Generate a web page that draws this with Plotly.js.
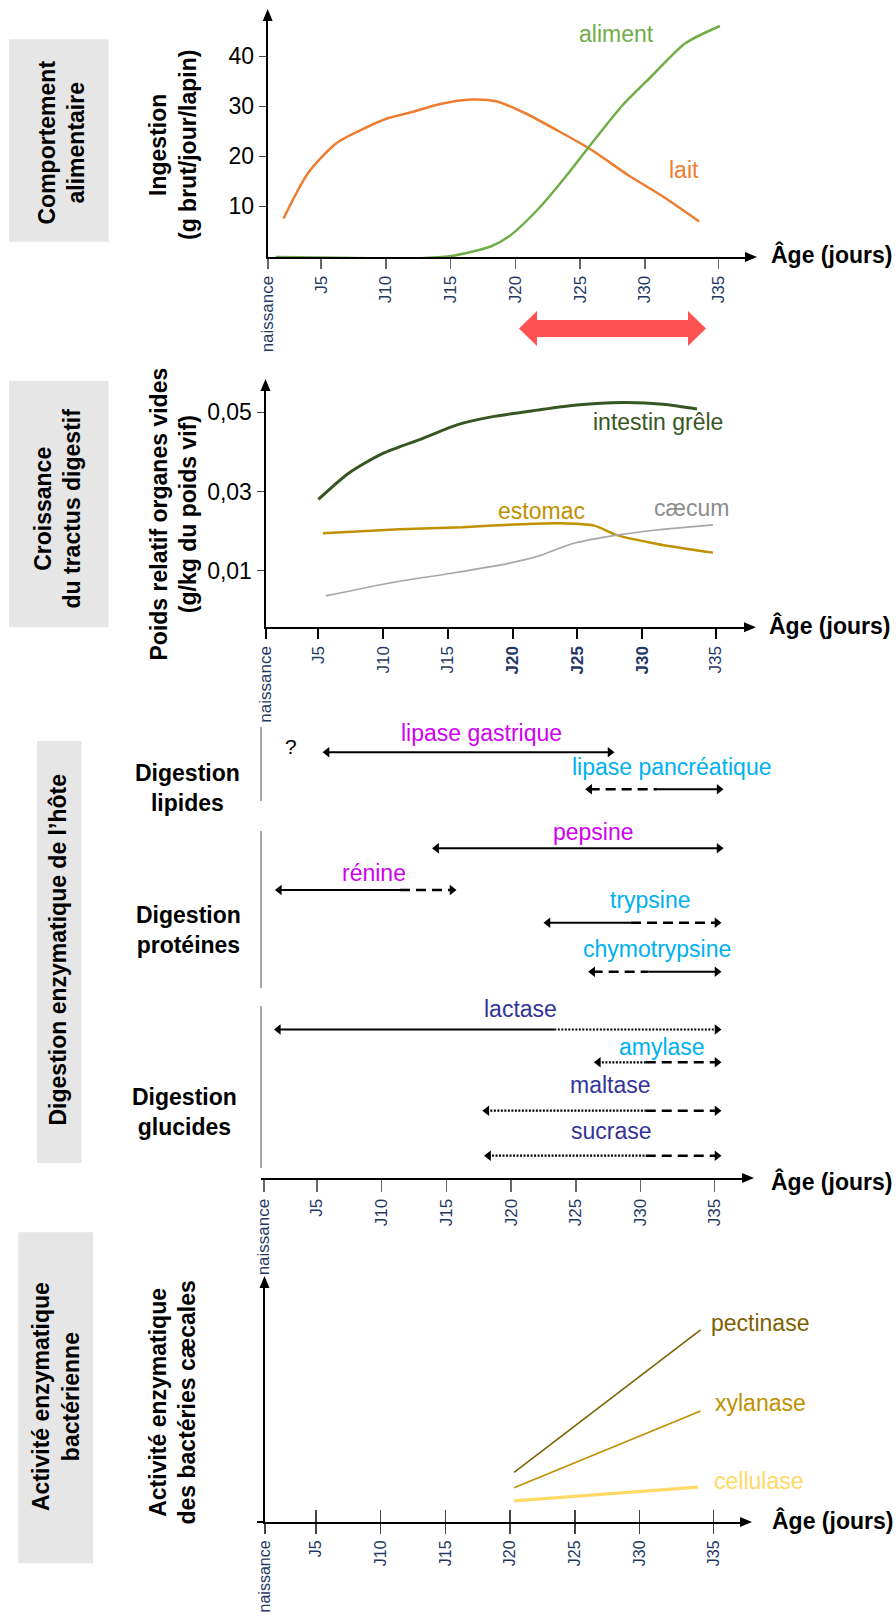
<!DOCTYPE html>
<html><head><meta charset="utf-8">
<script src="https://cdn.plot.ly/plotly-3.0.1.min.js"></script>
<style>html,body{margin:0;padding:0;background:#fff}</style>
</head><body><div id="chart" style="width:896px;height:1616px"></div>
<script>
// ===================== DATA =====================
const tickLabels = ['naissance','J5','J10','J15','J20','J25','J30','J35'];
const tickLabelsP2 = ['naissance','J5','J10','J15','<b>J20</b>','<b>J25</b>','<b>J30</b>','J35'];
const tickDays = [0.9, 5, 10, 15, 20, 25, 30, 35.7];

// Panel 1 : ingestion (g brut/jour/lapin)
const laitDays   = [2.1, 4.0, 6.2, 8.4, 10.2, 11.9, 14.2, 16.6, 18.6, 20.8, 23.4, 25.9, 28.7, 31.4, 34.2];
const laitValues = [7.5, 16.6, 22.6, 25.6, 27.6, 28.7, 30.4, 31.3, 30.9, 28.5, 24.9, 21.2, 16.2, 11.9, 6.9];
const alimentDays   = [1.5, 5, 10.2, 13, 15.1, 18.1, 19.5, 21.7, 23.9, 26.1, 28.3, 30.5, 33.1, 35.8];
const alimentValues = [-0.2, -0.3, -0.5, -0.4, 0, 1.9, 3.9, 9.2, 15.9, 23.2, 30.2, 35.9, 42.5, 46];
const ingestionTicks = [10, 20, 30, 40];

// Panel 2 : poids relatif organes vides (g/kg du poids vif)
const intestinDays   = [5.0, 7.34, 9.98, 13.07, 15.71, 18.36, 21.88, 24.97, 28.52, 31.6, 34.24];
const intestinValues = [0.0280, 0.0346, 0.0396, 0.0434, 0.0468, 0.0488, 0.0505, 0.0518, 0.0524, 0.0520, 0.0508];
const estomacDays   = [5.35, 11.3, 16.16, 20.13, 23.66, 26.31, 28.06, 31.15, 35.47];
const estomacValues = [0.0195, 0.0205, 0.0210, 0.0217, 0.0220, 0.0214, 0.0190, 0.0168, 0.0146];
const caecumDays   = [5.57, 10.42, 15.27, 19.69, 21.88, 24.54, 28.06, 31.15, 35.47];
const caecumValues = [0.0037, 0.0069, 0.0094, 0.0119, 0.0136, 0.0168, 0.0190, 0.0203, 0.0216];
const poidsTicks = [0.01, 0.03, 0.05];
const poidsTickText = ['0,01', '0,03', '0,05'];

// Panel 3 : digestion enzymatique de l'hôte (start / change of certainty / end, in days)
const enzNames  = ['lipase gastrique','lipase pancréatique','pepsine','rénine','trypsine','chymotrypsine','lactase','amylase','maltase','sucrase'];
const enzStart  = [5.78, 26.06, 14.24, 2.1, 22.84, 26.29, 2.02, 26.73, 18.12, 18.25];
const enzSwitch = [null, 31.26, null, 11.41, 29.25, 30.61, 23.33, 30.39, 30.39, 30.39];
const enzEnd    = [27.63, 36.05, 36.05, 15.43, 35.89, 35.89, 35.89, 35.89, 35.89, 35.89];
const enzStyleA = ['solid','dash','solid','solid','solid','dash','solid','dot','dot','dot'];
const enzStyleB = [null,'solid',null,'dash','dash','solid','dot','dash','dash','dash'];
const enzGroups = ['Digestion<br>lipides','Digestion<br>protéines','Digestion<br>glucides'];

// Panel 4 : activité enzymatique des bactéries caecales (unités arbitraires)
const bactDays = [20.3, 34.7];
const pectinaseValues = [20.3, 78.4];
const xylanaseValues  = [14.0, 45.3];
const cellulaseDays   = [20.3, 34.5];
const cellulaseValues = [8.6, 14.2];

// ===================== LAYOUT HELPERS =====================
const W = 896, H = 1616;
const fx = px => px / W;
const fy = py => 1 - py / H;
const F = 'Liberation Sans, Arial, Helvetica, sans-serif';
const NAVY = '#1f3864';
const S = 12.95; // px per day

// row pixel positions of the enzyme arrows (panel 3 y axis is in pixel units)
const enzRowY = [752.3, 789.3, 848.3, 890, 922.7, 971.7, 1029.5, 1062.3, 1110.7, 1155.7];
const enzColor = ['#d000f0','#00b0f0','#d000f0','#d000f0','#00b0f0','#00b0f0','#333399','#00b0f0','#333399','#333399'];
const enzLabelPx = [[481.7,733.3],[671.4,766.7],[593,831.7],[374.3,873.3],[650,900],[657,949.3],[520,1009.3],[661.7,1046.7],[610.3,1085],[611.4,1130.7]];

function xAxis(d0, r0, r1, anchor, ticktext, extra) {
  return Object.assign({
    domain: [fx(d0 + S * r0), fx(d0 + S * r1)], range: [r0, r1], anchor: anchor,
    showline: true, linecolor: '#000', linewidth: 2,
    ticks: 'outside', ticklen: 10, tickwidth: 1.5, tickcolor: '#666',
    tickvals: tickDays.map((d, i) => i === 0 ? Math.max(d, r0 + 0.02) : d), ticktext: ticktext, tickangle: -90,
    tickfont: {family: F, size: 17, color: NAVY},
    showgrid: false, zeroline: false, fixedrange: true
  }, extra || {});
}

const layout = {
  width: W, height: H, margin: {l: 0, r: 0, t: 0, b: 0},
  paper_bgcolor: '#fff', plot_bgcolor: 'rgba(0,0,0,0)',
  showlegend: false, hovermode: false,
  font: {family: F, size: 17, color: '#000'},
  xaxis:  xAxis(256.3, 0.88, 37.97, 'y', tickLabels),
  xaxis2: xAxis(253.6, 0.92, 38.1, 'y2', tickLabelsP2, {tickcolor: '#000', tickwidth: 2}),
  xaxis3: xAxis(252.2, 0.65, 38.05, 'y3', tickLabels, {ticklen: 12}),
  xaxis4: xAxis(251.2, 1.03, 37.98, 'y4', tickLabels, {ticklen: 10, tickcolor: '#444',
           tickfont: {family: F, size: 16, color: NAVY}}),
  xaxis5: {overlaying: 'x4', anchor: 'y4', range: [1.03, 37.98], tickvals: tickDays.slice(1), ticks: 'inside',
           ticklen: 12, tickwidth: 1.5, tickcolor: '#444', showticklabels: false, showline: false,
           showgrid: false, zeroline: false, fixedrange: true},
  yaxis: {domain: [fy(257), fy(19)], range: [-0.2, 47.4], anchor: 'x',
          showline: true, linecolor: '#000', linewidth: 2, ticks: 'outside', ticklen: 7, tickcolor: '#444',
          tickvals: ingestionTicks, tickfont: {family: F, size: 23, color: '#000'},
          showgrid: false, zeroline: false, fixedrange: true},
  yaxis2: {domain: [fy(627.3), fy(389)], range: [-0.00421, 0.05582], anchor: 'x2',
          showline: true, linecolor: '#000', linewidth: 2, ticks: 'outside', ticklen: 7, tickcolor: '#444',
          tickvals: poidsTicks, ticktext: poidsTickText, tickfont: {family: F, size: 23, color: '#000'},
          showgrid: false, zeroline: false, fixedrange: true},
  yaxis3: {domain: [fy(1178), fy(700)], range: [1178, 700], anchor: 'x3', visible: false, fixedrange: true},
  yaxis4: {domain: [fy(1522), fy(1286)], range: [0, 96.33], anchor: 'x4',
          showline: true, linecolor: '#000', linewidth: 2, ticks: '', showticklabels: false,
          showgrid: false, zeroline: false, fixedrange: true},
  shapes: [],
  annotations: []
};

// ---- gray side boxes ----
[[9, 39.3, 108.6, 241.7], [9, 381, 108.6, 627.3], [37, 741, 81.5, 1163], [18.3, 1232.3, 93, 1563.3]].forEach(b => {
  layout.shapes.push({type: 'rect', xref: 'paper', yref: 'paper', layer: 'below',
    x0: fx(b[0]), x1: fx(b[2]), y0: fy(b[3]), y1: fy(b[1]), fillcolor: '#e6e6e6', line: {width: 0}});
});

// ---- axis arrowheads ----
function poly(points, color) {
  const d = points.map((p, i) => (i ? 'L' : 'M') + fx(p[0]).toFixed(5) + ',' + fy(p[1]).toFixed(5)).join(' ') + ' Z';
  return {type: 'path', xref: 'paper', yref: 'paper', path: d, fillcolor: color, line: {width: 0}};
}
function arrowRight(tx, ty) { return poly([[tx, ty], [tx - 12, ty - 5], [tx - 12, ty + 5]], '#000'); }
function arrowUp(tx, ty) { return poly([[tx, ty], [tx - 5, ty + 12], [tx + 5, ty + 12]], '#000'); }
layout.shapes.push(arrowRight(757, 257), arrowUp(267.7, 9));
layout.shapes.push(arrowRight(756, 627.3), arrowUp(265.5, 379));
layout.shapes.push(arrowRight(754, 1178));
layout.shapes.push(arrowRight(752, 1522), arrowUp(264.5, 1276));

// x axis of panel 4 starts slightly left of its y axis
layout.shapes.push({type: 'line', xref: 'paper', yref: 'paper', x0: fx(257), x1: fx(265), y0: fy(1522), y1: fy(1522),
  line: {color: '#000', width: 2}});

// ---- red weaning double arrow ----
layout.shapes.push(poly([[519, 328.5], [537, 311], [537, 320], [688, 320], [688, 311], [706, 328.5],
  [688, 346], [688, 337], [537, 337], [537, 346]], '#ff5252'));

// ---- panel 3 group separators ----
[[727, 801], [831, 988], [1006, 1168]].forEach(s => {
  layout.shapes.push({type: 'line', xref: 'paper', yref: 'paper', x0: fx(261), x1: fx(261), y0: fy(s[0]), y1: fy(s[1]),
    line: {color: '#a6a6a6', width: 2}});
});

// ---- texts ----
function txt(text, px, py, opts) {
  return Object.assign({text: text, x: fx(px), y: fy(py), xref: 'paper', yref: 'paper', showarrow: false,
    xanchor: 'center', yanchor: 'middle', font: {family: F, size: 23, color: '#000'}}, opts || {});
}
const bold = s => '<b>' + s + '</b>';
layout.annotations.push(
  txt(bold('Comportement<br>alimentaire'), 61, 142.5, {textangle: -90}),
  txt(bold('Ingestion<br>(g brut/jour/lapin)'), 173, 145, {textangle: -90}),
  txt(bold('Croissance<br>du tractus digestif'), 57.5, 508, {textangle: -90}),
  txt(bold('Poids relatif organes vides<br>(g/kg du poids vif)'), 173, 514.5, {textangle: -90}),
  txt(bold('Digestion enzymatique de l’hôte'), 57, 950.5, {textangle: -90}),
  txt(bold('Activité enzymatique<br>bactérienne'), 56, 1397, {textangle: -90}),
  txt(bold('Activité enzymatique<br>des bactéries cæcales'), 172.5, 1403, {textangle: -90}),
  txt(bold('Âge (jours)'), 831, 255),
  txt(bold('Âge (jours)'), 829, 625),
  txt(bold('Âge (jours)'), 831, 1181),
  txt(bold('Âge (jours)'), 832, 1520),
  txt(bold(enzGroups[0]), 187, 788),
  txt(bold(enzGroups[1]), 188, 930),
  txt(bold(enzGroups[2]), 184, 1112),
  txt('aliment', 616.6, 34, {font: {family: F, size: 23, color: '#70ad47'}}),
  txt('lait', 683.6, 170, {font: {family: F, size: 23, color: '#ed7d31'}}),
  txt('intestin grêle', 657.8, 421.7, {font: {family: F, size: 23, color: '#375623'}}),
  txt('estomac', 541, 511, {font: {family: F, size: 23, color: '#bf9000'}}),
  txt('cæcum', 691, 508.3, {font: {family: F, size: 23, color: '#8c8c8c'}}),
  txt('pectinase', 760, 1323.3, {font: {family: F, size: 23, color: '#7f6000'}}),
  txt('xylanase', 760, 1402.7, {font: {family: F, size: 23, color: '#bf9000'}}),
  txt('cellulase', 759, 1481, {font: {family: F, size: 23, color: '#ffd966'}}),
  txt('?', 291.4, 746.7, {font: {family: F, size: 21, color: '#000'}})
);
enzNames.forEach((n, i) => {
  layout.annotations.push(txt(n, enzLabelPx[i][0], enzLabelPx[i][1], {font: {family: F, size: 23, color: enzColor[i]}}));
});

// ===================== TRACES =====================
const traces = [];
function line(x, y, xa, ya, color, width, shape) {
  return {type: 'scatter', mode: 'lines', x: x, y: y, xaxis: xa, yaxis: ya, hoverinfo: 'skip',
    line: {color: color, width: width, shape: shape || 'spline', smoothing: 0.7}, showlegend: false};
}
traces.push(line(laitDays, laitValues, 'x', 'y', '#ed7d31', 2.5));
traces.push(line(alimentDays, alimentValues, 'x', 'y', '#70ad47', 2.5));
traces.push(line(intestinDays, intestinValues, 'x2', 'y2', '#375623', 3));
traces.push(line(estomacDays, estomacValues, 'x2', 'y2', '#bf9000', 2.5));
traces.push(line(caecumDays, caecumValues, 'x2', 'y2', '#a6a6a6', 1.6));

const dashMap = {solid: {dash: 'solid', width: 2}, dash: {dash: '10px,6px', width: 2.6}, dot: {dash: '2px,1.5px', width: 2.2}};
enzNames.forEach((n, i) => {
  const segs = enzSwitch[i] === null
    ? [[enzStart[i], enzEnd[i], enzStyleA[i]]]
    : [[enzStart[i], enzSwitch[i], enzStyleA[i]], [enzSwitch[i], enzEnd[i], enzStyleB[i]]];
  segs.forEach(s => {
    const st = dashMap[s[2]];
    traces.push({type: 'scatter', mode: 'lines', x: [s[0], s[1]], y: [enzRowY[i], enzRowY[i]], xaxis: 'x3', yaxis: 'y3',
      hoverinfo: 'skip', showlegend: false, line: {color: '#000', width: st.width, dash: st.dash}});
  });
});
traces.push({type: 'scatter', mode: 'markers', x: enzStart, y: enzRowY, xaxis: 'x3', yaxis: 'y3', hoverinfo: 'skip',
  showlegend: false, marker: {symbol: 'triangle-left', size: 9, color: '#000'}});
traces.push({type: 'scatter', mode: 'markers', x: enzEnd, y: enzRowY, xaxis: 'x3', yaxis: 'y3', hoverinfo: 'skip',
  showlegend: false, marker: {symbol: 'triangle-right', size: 9, color: '#000'}});

traces.push(line(bactDays, pectinaseValues, 'x4', 'y4', '#7f6000', 1.6, 'linear'));
traces.push(line(bactDays, xylanaseValues, 'x4', 'y4', '#bf9000', 1.6, 'linear'));
traces.push(line(cellulaseDays, cellulaseValues, 'x4', 'y4', '#ffd966', 3.2, 'linear'));
traces.push({type: 'scatter', mode: 'markers', x: [], y: [], xaxis: 'x5', yaxis: 'y4', showlegend: false, hoverinfo: 'skip'});

Plotly.newPlot('chart', traces, layout, {staticPlot: true, displayModeBar: false});
</script>
</body></html>
